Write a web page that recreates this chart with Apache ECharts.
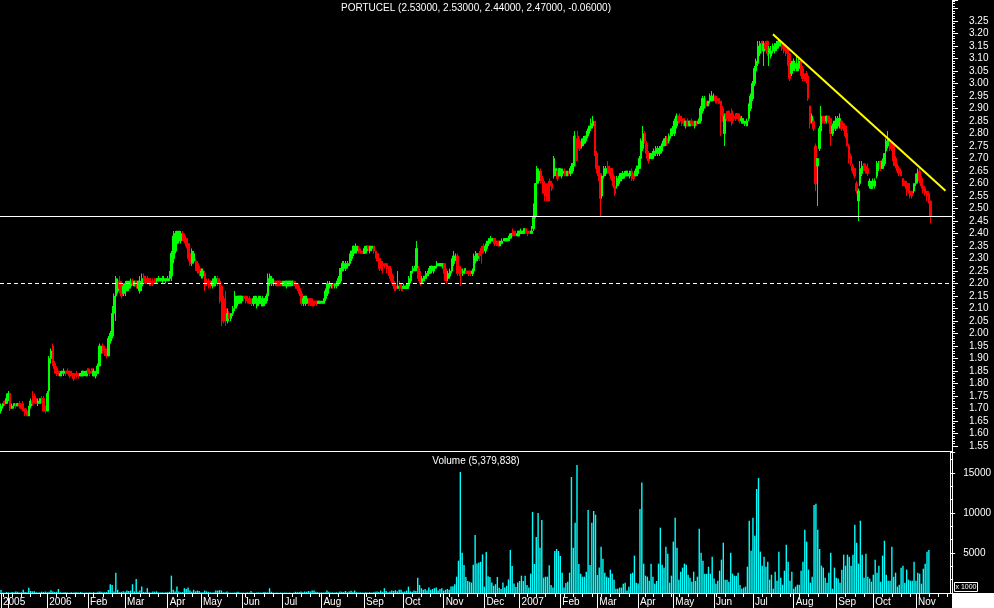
<!DOCTYPE html>
<html><head><meta charset="utf-8">
<script src="https://cdn.jsdelivr.net/npm/echarts@6/dist/echarts.min.js"></script>
<style>html,body{margin:0;padding:0;background:#000}#c{width:994px;height:608px}</style>
</head><body><div id="c"></div>
<script>
// ---------- text / levels ----------
const chartTitle = 'PORTUCEL (2.53000, 2.53000, 2.44000, 2.47000, -0.06000)';
const volumeTitle = 'Volume (5,379,838)';
const MONTHS = ['Jan','Feb','Mar','Apr','May','Jun','Jul','Aug','Sep','Oct','Nov','Dec'];
const holidays = ['2005-12-26','2006-04-14','2006-04-17','2006-05-01','2006-12-25','2006-12-26','2007-01-01','2007-04-06','2007-04-09','2007-05-01','2007-12-25','2007-12-26'];
const firstDay = [2005, 10, 25];
const totalSlots = 513;
const solidLevel = 2.47;
const dashedLevel = 2.20;
const trendIdx = [416, 509];
const trendVal = [3.197, 2.571];
const priceMin = 1.55, priceMax = 3.334, priceStep = 0.05, priceTopLabel = 3.25;
const volMin = 0, volMax = 17625, volStep = 5000;

// ---------- price bars per month: [open, close, low, high] ----------
const p2005_11 = [[1.69,1.71,1.68,1.72],[1.71,1.72,1.70,1.72],[1.73,1.72,1.71,1.73],[1.72,1.74,1.72,1.76]];
const p2005_12 = [[1.74,1.76,1.73,1.77],[1.76,1.70,1.69,1.76],[1.70,1.71,1.70,1.72],[1.71,1.72,1.70,1.72],[1.72,1.71,1.70,1.72],[1.71,1.72,1.71,1.72],[1.72,1.71,1.70,1.73],[1.71,1.70,1.70,1.72],[1.72,1.69,1.69,1.73],[1.70,1.68,1.67,1.70],[1.69,1.67,1.67,1.70],[1.67,1.71,1.67,1.71],[1.71,1.73,1.70,1.74],[1.73,1.72,1.71,1.77],[1.75,1.73,1.72,1.76],[1.74,1.72,1.72,1.75],[1.72,1.73,1.71,1.74],[1.72,1.74,1.72,1.74],[1.74,1.73,1.72,1.75],[1.74,1.69,1.69,1.75],[1.71,1.69,1.68,1.71]];
const p2006_01 = [[1.69,1.76,1.69,1.77],[1.77,1.90,1.76,1.91],[1.90,1.93,1.88,1.94],[1.95,1.88,1.87,1.96],[1.88,1.86,1.84,1.89],[1.86,1.84,1.83,1.87],[1.85,1.84,1.83,1.85],[1.83,1.84,1.83,1.85],[1.84,1.85,1.83,1.85],[1.84,1.85,1.83,1.86],[1.85,1.84,1.83,1.85],[1.85,1.84,1.84,1.86],[1.85,1.83,1.82,1.85],[1.84,1.83,1.83,1.85],[1.84,1.82,1.81,1.84],[1.84,1.83,1.82,1.84],[1.84,1.83,1.82,1.85],[1.84,1.83,1.82,1.84],[1.83,1.84,1.83,1.84],[1.83,1.85,1.83,1.85],[1.835,1.845,1.83,1.85],[1.83,1.85,1.83,1.85]];
const p2006_02 = [[1.86,1.84,1.84,1.86],[1.85,1.84,1.83,1.86],[1.86,1.84,1.84,1.86],[1.83,1.85,1.83,1.86],[1.83,1.84,1.82,1.85],[1.84,1.87,1.84,1.88],[1.87,1.95,1.87,1.96],[1.92,1.95,1.91,1.95],[1.95,1.93,1.92,1.96],[1.94,1.92,1.91,1.95],[1.93,1.91,1.90,1.94],[1.91,1.98,1.91,1.99],[1.97,2.00,1.96,2.01],[1.99,2.08,1.98,2.11],[2.08,2.15,2.07,2.16],[2.15,2.22,2.05,2.23],[2.17,2.21,2.16,2.22],[2.21,2.18,2.16,2.23],[2.20,2.15,2.14,2.21],[2.16,2.19,2.15,2.20]];
const p2006_03 = [[2.17,2.20,2.15,2.21],[2.17,2.21,2.17,2.21],[2.18,2.21,2.17,2.21],[2.19,2.21,2.18,2.22],[2.21,2.20,2.19,2.22],[2.19,2.21,2.19,2.21],[2.21,2.19,2.18,2.21],[2.18,2.21,2.17,2.21],[2.17,2.21,2.16,2.23],[2.19,2.22,2.17,2.24],[2.23,2.21,2.20,2.24],[2.22,2.20,2.20,2.23],[2.22,2.21,2.20,2.23],[2.22,2.20,2.19,2.22],[2.21,2.20,2.19,2.21],[2.21,2.20,2.19,2.22],[2.22,2.20,2.20,2.22],[2.21,2.22,2.20,2.22],[2.21,2.22,2.21,2.23],[2.21,2.22,2.21,2.22],[2.21,2.22,2.20,2.23],[2.21,2.22,2.21,2.23],[2.21,2.22,2.20,2.22]];
const p2006_04 = [[2.21,2.22,2.21,2.23],[2.22,2.24,2.21,2.25],[2.23,2.32,2.21,2.33],[2.30,2.39,2.28,2.41],[2.33,2.40,2.32,2.41],[2.36,2.41,2.35,2.41],[2.37,2.41,2.36,2.41],[2.37,2.40,2.36,2.41],[2.40,2.38,2.37,2.41],[2.39,2.37,2.36,2.40],[2.38,2.35,2.34,2.38],[2.36,2.30,2.29,2.36],[2.32,2.28,2.27,2.33],[2.28,2.33,2.27,2.34],[2.29,2.32,2.28,2.33],[2.29,2.26,2.25,2.30],[2.28,2.25,2.24,2.29],[2.26,2.24,2.23,2.27]];
const p2006_05 = [[2.23,2.25,2.22,2.26],[2.23,2.25,2.22,2.26],[2.24,2.19,2.17,2.25],[2.21,2.20,2.19,2.22],[2.21,2.19,2.18,2.22],[2.21,2.20,2.18,2.21],[2.19,2.21,2.18,2.22],[2.19,2.22,2.19,2.23],[2.20,2.22,2.19,2.23],[2.22,2.20,2.19,2.23],[2.21,2.13,2.12,2.22],[2.19,2.06,2.03,2.19],[2.14,2.05,2.04,2.15],[2.10,2.06,2.03,2.17],[2.05,2.08,2.04,2.10],[2.08,2.06,2.06,2.09],[2.06,2.08,2.05,2.08],[2.08,2.10,2.07,2.11],[2.10,2.15,2.09,2.17],[2.11,2.14,2.10,2.15],[2.12,2.15,2.12,2.15],[2.13,2.15,2.12,2.15]];
const p2006_06 = [[2.13,2.15,2.12,2.15],[2.15,2.14,2.13,2.15],[2.15,2.13,2.12,2.15],[2.14,2.13,2.12,2.15],[2.14,2.12,2.12,2.15],[2.13,2.12,2.11,2.14],[2.12,2.14,2.11,2.15],[2.12,2.15,2.12,2.15],[2.11,2.14,2.10,2.15],[2.12,2.15,2.11,2.15],[2.12,2.14,2.12,2.15],[2.11,2.13,2.11,2.15],[2.12,2.14,2.11,2.14],[2.13,2.15,2.12,2.16],[2.15,2.22,2.13,2.24],[2.20,2.23,2.19,2.24],[2.20,2.22,2.19,2.23],[2.20,2.21,2.19,2.22],[2.21,2.20,2.19,2.21],[2.21,2.19,2.19,2.21],[2.21,2.20,2.19,2.21],[2.21,2.19,2.19,2.21]];
const p2006_07 = [[2.19,2.21,2.19,2.21],[2.19,2.21,2.19,2.21],[2.19,2.21,2.18,2.21],[2.19,2.21,2.19,2.21],[2.19,2.21,2.19,2.21],[2.20,2.21,2.19,2.21],[2.21,2.19,2.19,2.21],[2.20,2.18,2.18,2.21],[2.20,2.18,2.17,2.20],[2.18,2.16,2.15,2.19],[2.16,2.12,2.11,2.17],[2.12,2.14,2.11,2.15],[2.12,2.15,2.11,2.15],[2.12,2.14,2.12,2.15],[2.14,2.12,2.11,2.14],[2.14,2.12,2.11,2.14],[2.13,2.11,2.11,2.14],[2.13,2.12,2.11,2.13],[2.13,2.12,2.11,2.13],[2.12,2.13,2.12,2.13],[2.12,2.13,2.12,2.13]];
const p2006_08 = [[2.12,2.13,2.12,2.13],[2.12,2.14,2.12,2.14],[2.14,2.17,2.13,2.18],[2.16,2.20,2.15,2.21],[2.19,2.20,2.18,2.21],[2.19,2.20,2.18,2.20],[2.20,2.19,2.18,2.20],[2.19,2.20,2.18,2.20],[2.19,2.21,2.18,2.21],[2.20,2.22,2.19,2.23],[2.21,2.26,2.20,2.26],[2.25,2.28,2.25,2.29],[2.26,2.28,2.25,2.29],[2.26,2.28,2.25,2.29],[2.27,2.28,2.26,2.29],[2.28,2.31,2.27,2.32],[2.30,2.33,2.29,2.33],[2.32,2.35,2.31,2.35],[2.33,2.34,2.32,2.36],[2.33,2.35,2.32,2.35],[2.34,2.33,2.32,2.35],[2.33,2.32,2.32,2.34],[2.33,2.32,2.32,2.33]];
const p2006_09 = [[2.32,2.34,2.32,2.35],[2.33,2.35,2.32,2.35],[2.35,2.34,2.33,2.35],[2.33,2.35,2.32,2.35],[2.34,2.35,2.33,2.35],[2.35,2.33,2.32,2.35],[2.33,2.31,2.30,2.33],[2.32,2.29,2.29,2.32],[2.30,2.26,2.25,2.30],[2.28,2.27,2.25,2.29],[2.28,2.27,2.24,2.29],[2.28,2.27,2.26,2.28],[2.28,2.26,2.24,2.28],[2.27,2.24,2.23,2.27],[2.26,2.22,2.21,2.27],[2.23,2.20,2.19,2.24],[2.20,2.18,2.17,2.21],[2.19,2.18,2.17,2.20],[2.18,2.19,2.18,2.25],[2.20,2.18,2.17,2.21],[2.19,2.17,2.17,2.20]];
const p2006_10 = [[2.18,2.19,2.18,2.20],[2.18,2.19,2.18,2.19],[2.18,2.20,2.18,2.20],[2.19,2.22,2.19,2.23],[2.21,2.25,2.20,2.25],[2.25,2.26,2.24,2.27],[2.25,2.27,2.25,2.27],[2.26,2.34,2.25,2.37],[2.26,2.22,2.21,2.27],[2.22,2.20,2.19,2.25],[2.20,2.22,2.20,2.23],[2.21,2.23,2.21,2.23],[2.22,2.24,2.22,2.25],[2.23,2.25,2.23,2.25],[2.24,2.26,2.24,2.27],[2.25,2.27,2.24,2.27],[2.25,2.26,2.24,2.27],[2.26,2.27,2.25,2.27],[2.27,2.28,2.26,2.29],[2.27,2.28,2.27,2.28],[2.27,2.28,2.27,2.28],[2.27,2.28,2.26,2.28]];
const p2006_11 = [[2.28,2.24,2.21,2.28],[2.25,2.21,2.20,2.26],[2.22,2.24,2.21,2.25],[2.23,2.25,2.22,2.26],[2.25,2.29,2.24,2.30],[2.28,2.31,2.27,2.33],[2.30,2.31,2.29,2.32],[2.31,2.24,2.23,2.32],[2.26,2.24,2.23,2.27],[2.26,2.24,2.19,2.27],[2.24,2.25,2.23,2.26],[2.24,2.26,2.24,2.26],[2.25,2.24,2.24,2.25],[2.25,2.24,2.23,2.25],[2.25,2.24,2.23,2.25],[2.24,2.25,2.23,2.26],[2.25,2.31,2.24,2.32],[2.29,2.32,2.28,2.33],[2.30,2.32,2.29,2.32],[2.32,2.31,2.29,2.33],[2.34,2.32,2.28,2.35],[2.35,2.33,2.32,2.36]];
const p2006_12 = [[2.33,2.35,2.32,2.36],[2.34,2.37,2.33,2.37],[2.36,2.38,2.35,2.38],[2.37,2.38,2.36,2.39],[2.37,2.38,2.37,2.38],[2.38,2.36,2.35,2.38],[2.37,2.36,2.35,2.37],[2.37,2.35,2.35,2.37],[2.35,2.37,2.35,2.37],[2.36,2.37,2.36,2.38],[2.37,2.38,2.37,2.38],[2.37,2.38,2.37,2.38],[2.37,2.38,2.37,2.38],[2.38,2.39,2.37,2.40],[2.39,2.40,2.38,2.40],[2.41,2.39,2.39,2.42],[2.41,2.39,2.39,2.41],[2.39,2.40,2.39,2.40],[2.39,2.41,2.39,2.41]];
const p2007_01 = [[2.40,2.41,2.40,2.42],[2.40,2.41,2.40,2.41],[2.40,2.42,2.40,2.42],[2.42,2.40,2.40,2.42],[2.41,2.40,2.39,2.41],[2.41,2.40,2.40,2.41],[2.40,2.41,2.40,2.43],[2.42,2.47,2.41,2.52],[2.47,2.60,2.46,2.60],[2.60,2.66,2.59,2.67],[2.61,2.65,2.60,2.66],[2.65,2.61,2.60,2.66],[2.62,2.58,2.56,2.63],[2.60,2.56,2.53,2.61],[2.59,2.55,2.53,2.60],[2.60,2.53,2.53,2.61],[2.61,2.59,2.58,2.62],[2.60,2.58,2.57,2.61],[2.63,2.70,2.62,2.71],[2.64,2.66,2.63,2.66],[2.65,2.62,2.61,2.66],[2.63,2.66,2.63,2.66]];
const p2007_02 = [[2.63,2.65,2.62,2.66],[2.64,2.65,2.63,2.66],[2.65,2.63,2.63,2.66],[2.63,2.65,2.63,2.65],[2.65,2.64,2.63,2.65],[2.64,2.66,2.63,2.67],[2.65,2.68,2.64,2.68],[2.67,2.79,2.67,2.81],[2.78,2.69,2.67,2.79],[2.79,2.74,2.69,2.81],[2.77,2.74,2.73,2.78],[2.75,2.77,2.74,2.78],[2.76,2.78,2.75,2.79],[2.77,2.79,2.76,2.79],[2.79,2.81,2.78,2.82],[2.80,2.83,2.79,2.83],[2.82,2.84,2.81,2.86],[2.83,2.85,2.82,2.87],[2.85,2.72,2.71,2.85],[2.72,2.66,2.64,2.73]];
const p2007_03 = [[2.67,2.63,2.61,2.67],[2.64,2.54,2.47,2.64],[2.55,2.63,2.54,2.63],[2.63,2.66,2.62,2.67],[2.64,2.66,2.63,2.67],[2.67,2.65,2.64,2.69],[2.66,2.64,2.63,2.67],[2.66,2.62,2.61,2.66],[2.63,2.59,2.58,2.64],[2.59,2.56,2.55,2.60],[2.59,2.62,2.58,2.63],[2.60,2.63,2.59,2.63],[2.61,2.64,2.61,2.64],[2.62,2.64,2.62,2.65],[2.63,2.64,2.62,2.65],[2.63,2.65,2.63,2.65],[2.63,2.64,2.63,2.65],[2.63,2.65,2.62,2.65],[2.65,2.62,2.61,2.66],[2.64,2.62,2.61,2.64],[2.63,2.65,2.63,2.66],[2.64,2.67,2.63,2.67]];
const p2007_04 = [[2.66,2.70,2.66,2.71],[2.70,2.77,2.69,2.78],[2.74,2.80,2.73,2.83],[2.80,2.77,2.76,2.81],[2.76,2.72,2.70,2.77],[2.72,2.69,2.68,2.73],[2.70,2.72,2.70,2.72],[2.70,2.72,2.70,2.73],[2.71,2.73,2.70,2.74],[2.72,2.74,2.71,2.75],[2.72,2.74,2.71,2.75],[2.72,2.74,2.71,2.75],[2.73,2.75,2.72,2.76],[2.75,2.77,2.75,2.78],[2.76,2.78,2.75,2.79],[2.78,2.76,2.75,2.79],[2.77,2.79,2.76,2.80],[2.79,2.81,2.78,2.82],[2.80,2.82,2.79,2.83]];
const p2007_05 = [[2.80,2.85,2.79,2.86],[2.83,2.87,2.82,2.88],[2.87,2.85,2.84,2.87],[2.87,2.85,2.84,2.88],[2.86,2.84,2.83,2.87],[2.86,2.84,2.83,2.86],[2.83,2.85,2.82,2.85],[2.85,2.83,2.83,2.86],[2.83,2.85,2.83,2.85],[2.85,2.84,2.83,2.86],[2.85,2.83,2.83,2.85],[2.83,2.85,2.82,2.85],[2.85,2.84,2.83,2.85],[2.84,2.85,2.84,2.86],[2.85,2.90,2.84,2.91],[2.89,2.94,2.88,2.95],[2.91,2.93,2.90,2.95],[2.93,2.91,2.90,2.94],[2.91,2.93,2.91,2.93],[2.93,2.95,2.92,2.96],[2.93,2.95,2.93,2.97],[2.94,2.95,2.93,2.96]];
const p2007_06 = [[2.95,2.93,2.92,2.95],[2.94,2.93,2.92,2.95],[2.94,2.92,2.92,2.94],[2.93,2.87,2.79,2.93],[2.90,2.86,2.85,2.91],[2.80,2.87,2.75,2.88],[2.88,2.86,2.85,2.89],[2.89,2.86,2.85,2.89],[2.88,2.85,2.85,2.89],[2.89,2.84,2.83,2.90],[2.87,2.86,2.85,2.88],[2.88,2.86,2.85,2.88],[2.88,2.86,2.86,2.88],[2.87,2.85,2.84,2.88],[2.85,2.86,2.84,2.87],[2.84,2.86,2.84,2.86],[2.84,2.85,2.83,2.85],[2.83,2.85,2.83,2.86],[2.86,2.91,2.85,2.92],[2.90,2.95,2.89,2.96],[2.94,3.00,2.93,3.01]];
const p2007_07 = [[3.00,3.06,2.99,3.07],[3.05,3.09,3.04,3.10],[3.08,3.15,3.07,3.17],[3.12,3.16,3.11,3.17],[3.17,3.13,3.12,3.17],[3.13,3.16,3.07,3.17],[3.16,3.14,3.13,3.17],[3.17,3.12,3.11,3.17],[3.12,3.14,3.07,3.15],[3.11,3.13,3.10,3.15],[3.13,3.15,3.12,3.16],[3.13,3.16,3.12,3.16],[3.14,3.15,3.13,3.17],[3.15,3.17,3.14,3.18],[3.15,3.16,3.15,3.17],[3.16,3.14,3.13,3.16],[3.15,3.13,3.12,3.16],[3.14,3.12,3.11,3.15],[3.14,3.11,3.07,3.14],[3.12,3.02,3.01,3.12],[3.04,3.08,3.03,3.09],[3.06,3.09,3.05,3.10]];
const p2007_08 = [[3.06,3.08,3.05,3.09],[3.05,3.08,3.05,3.11],[3.06,3.09,3.05,3.10],[3.09,3.04,3.03,3.10],[3.06,3.02,3.01,3.07],[3.03,3.02,3.01,3.04],[3.04,3.01,3.00,3.05],[3.03,2.94,2.93,3.03],[2.91,2.84,2.82,2.91],[2.85,2.87,2.84,2.88],[2.85,2.82,2.81,2.86],[2.75,2.60,2.57,2.76],[2.67,2.70,2.51,2.70],[2.74,2.82,2.73,2.83],[2.81,2.87,2.80,2.91],[2.87,2.85,2.84,2.87],[2.86,2.84,2.84,2.87],[2.85,2.87,2.84,2.87],[2.87,2.85,2.84,2.87],[2.86,2.80,2.75,2.86],[2.80,2.83,2.79,2.84],[2.82,2.85,2.80,2.85],[2.82,2.86,2.81,2.87]];
const p2007_09 = [[2.83,2.86,2.82,2.87],[2.83,2.86,2.82,2.88],[2.85,2.82,2.81,2.85],[2.84,2.82,2.81,2.84],[2.83,2.79,2.78,2.83],[2.80,2.75,2.75,2.81],[2.75,2.70,2.68,2.76],[2.71,2.68,2.67,2.72],[2.67,2.65,2.64,2.68],[2.66,2.63,2.62,2.66],[2.60,2.57,2.56,2.61],[2.53,2.57,2.45,2.58],[2.60,2.66,2.59,2.69],[2.64,2.67,2.63,2.69],[2.68,2.66,2.65,2.68],[2.67,2.65,2.64,2.68],[2.66,2.64,2.63,2.68],[2.59,2.61,2.58,2.62],[2.58,2.60,2.58,2.61],[2.59,2.61,2.58,2.62]];
const p2007_10 = [[2.59,2.61,2.58,2.62],[2.63,2.68,2.62,2.69],[2.66,2.68,2.65,2.69],[2.69,2.66,2.65,2.69],[2.66,2.69,2.66,2.70],[2.68,2.72,2.67,2.72],[2.73,2.77,2.72,2.78],[2.75,2.78,2.74,2.81],[2.77,2.74,2.73,2.78],[2.76,2.74,2.73,2.77],[2.75,2.69,2.67,2.76],[2.70,2.67,2.66,2.71],[2.67,2.65,2.64,2.68],[2.66,2.64,2.63,2.66],[2.65,2.63,2.63,2.66],[2.62,2.60,2.59,2.62],[2.61,2.59,2.59,2.61],[2.60,2.58,2.55,2.61],[2.60,2.57,2.56,2.60],[2.57,2.55,2.54,2.58],[2.57,2.55,2.54,2.57],[2.57,2.60,2.56,2.60],[2.60,2.63,2.59,2.64]];
const p2007_11 = [[2.61,2.64,2.60,2.66],[2.65,2.61,2.60,2.66],[2.62,2.59,2.58,2.63],[2.59,2.57,2.56,2.60],[2.58,2.56,2.55,2.59],[2.57,2.55,2.53,2.57],[2.56,2.53,2.52,2.57],[2.53,2.47,2.44,2.53]];

// ---------- volume per month (x 1000 shares) ----------
const v2005_11 = [380,60,40,120];
const v2005_12 = [80,60,120,90,200,150,70,100,420,110,80,660,250,200,220,100,60,90,150,120,180];
const v2006_01 = [100,150,350,200,120,150,500,90,60,80,100,70,50,90,60,80,100,70,120,60,40,60];
const v2006_02 = [60,80,50,120,40,100,200,150,80,100,120,380,1100,1000,200,2540,400,100,150,220];
const v2006_03 = [150,300,250,300,1100,200,1750,150,300,800,120,100,600,80,60,200,150,200,80,60,100,50,80];
const v2006_04 = [100,150,2170,400,200,800,200,100,120,600,500,700,300,150,400,200,300,250];
const v2006_05 = [100,80,300,200,150,80,60,100,300,300,350,300,100,80,200,60,50,40,60,80,150,60];
const v2006_06 = [60,50,40,80,60,250,50,40,60,80,50,60,120,100,80,600,150,60,40,50,30,60];
const v2006_07 = [40,50,60,30,50,40,60,150,100,120,200,100,180,150,250,200,300,300,150,100,60];
const v2006_08 = [80,60,100,300,150,60,80,50,100,60,200,150,120,250,100,200,280,150,300,100,60,80,50];
const v2006_09 = [60,80,50,100,60,80,150,200,120,300,150,600,250,100,200,300,250,350,200,400,400];
const v2006_10 = [150,200,300,800,200,150,300,250,1900,1000,600,400,500,300,700,400,500,600,700,300,500,600];
const v2006_11 = [300,400,500,400,800,850,1100,2040,4040,15125,5040,3500,2000,1500,1400,1300,3540,7250,3700,3800,3900,4830];
const v2006_12 = [800,5125,2080,2000,1300,900,1100,2000,660,500,1300,700,900,1700,5375,3375,1200,750,1300];
const v2007_01 = [1500,2170,1500,2170,1000,700,2420,10125,3625,7000,10000,5670,9125,1920,2040,2040,3460,1000,700,5250,5500,5250];
const v2007_02 = [4625,2540,700,1250,1400,2540,14500,5670,8790,16000,3625,2420,2040,2040,2670,10375,3500,8790,10250,9790];
const v2007_03 = [2250,3200,5790,4290,2540,2040,1920,2920,2420,1670,540,540,670,670,1170,1290,300,790,2420,2540,4670,1290];
const v2007_04 = [1200,10500,13800,3670,2170,2040,1540,3670,2040,1170,1500,3670,8170,3540,3170,5790,4920,1290,2170];
const v2007_05 = [6420,9420,5670,1670,2670,3170,3670,3540,2290,1920,1420,2670,1500,2040,8040,5040,4040,2420,2400,3290,2420,4540];
const v2007_06 = [1800,1170,1540,2790,4170,6290,1670,1670,1420,5040,2420,2170,2170,2540,1000,540,670,790,3290,9040,5290];
const v2007_07 = [9420,7170,13000,14375,5170,3420,4540,3290,3920,1670,2290,540,2670,1540,5170,1920,1040,2790,6040,3920,1540,2670];
const v2007_08 = [540,790,1040,1040,2790,3920,7920,6420,2920,1290,2040,11000,11170,7920,5500,3420,3170,1920,1290,2540,5040,540,3170];
const v2007_09 = [1920,1800,1290,2920,4790,3420,4790,4540,3420,4790,8540,6290,3670,9040,4790,1920,4920,2040,1800,1420];
const v2007_10 = [2290,4170,2540,3420,1420,4670,6540,2290,1540,1540,5790,2040,2540,800,1040,3170,3420,1290,2920,1670,1540,1540,3920];
const v2007_11 = [1540,2540,2420,1170,3040,3670,5170,5379.838];

const priceMonths = [p2005_11,p2005_12,p2006_01,p2006_02,p2006_03,p2006_04,p2006_05,p2006_06,p2006_07,p2006_08,p2006_09,p2006_10,p2006_11,p2006_12,p2007_01,p2007_02,p2007_03,p2007_04,p2007_05,p2007_06,p2007_07,p2007_08,p2007_09,p2007_10,p2007_11];
const volMonths = [v2005_11,v2005_12,v2006_01,v2006_02,v2006_03,v2006_04,v2006_05,v2006_06,v2006_07,v2006_08,v2006_09,v2006_10,v2006_11,v2006_12,v2007_01,v2007_02,v2007_03,v2007_04,v2007_05,v2007_06,v2007_07,v2007_08,v2007_09,v2007_10,v2007_11];

const priceData = [].concat(...priceMonths);
const volData = [].concat(...volMonths);

// ---------- trading-day categories ----------
const dates = [];
{
  const d = new Date(Date.UTC(firstDay[0], firstDay[1], firstDay[2]));
  while (dates.length < totalSlots) {
    const s = d.toISOString().slice(0, 10);
    const wd = d.getUTCDay();
    if (wd !== 0 && wd !== 6 && holidays.indexOf(s) < 0) dates.push(s);
    d.setUTCDate(d.getUTCDate() + 1);
  }
}
const monthTick = new Set([0]);
const weekTick = new Set();
const labelText = {0: dates[0].slice(0, 4)};
const dow = s => new Date(s + 'T00:00:00Z').getUTCDay();
for (let i = 1; i < dates.length; i++) {
  const y = +dates[i].slice(0, 4), m = +dates[i].slice(5, 7), pm = +dates[i - 1].slice(5, 7);
  if (m !== pm) {
    monthTick.add(i);
    if (i >= 10) labelText[i] = m === 1 ? String(y) : MONTHS[m - 1];
  }
  if (dow(dates[i]) <= dow(dates[i - 1])) weekTick.add(i);
}

const FONT = '"Liberation Sans", Arial, sans-serif';
const W = 952;
const chart = echarts.init(document.getElementById('c'), null, {renderer: 'canvas'});
chart.setOption({
  backgroundColor: '#000',
  animation: false,
  grid: [
    {left: 0, width: W, top: 0, height: 446},
    {left: 0, width: W, top: 452, height: 141}
  ],
  xAxis: [
    {type: 'category', gridIndex: 0, data: dates, boundaryGap: true, show: false},
    {type: 'category', gridIndex: 1, data: dates, boundaryGap: true, position: 'bottom',
      axisLine: {show: true, lineStyle: {color: '#fff', width: 1}},
      axisTick: {show: true, alignWithLabel: true, length: 15, interval: i => monthTick.has(i), lineStyle: {color: '#fff'}},
      axisLabel: {show: true, interval: i => labelText[i] !== undefined, formatter: (v, i) => labelText[i] || '',
        color: '#fff', fontSize: 10, fontFamily: FONT, align: 'left', margin: 4, padding: [0, 0, 0, 2]},
      splitLine: {show: false}},
    {type: 'category', gridIndex: 1, data: dates, boundaryGap: true, position: 'bottom',
      axisLine: {show: false},
      axisTick: {show: true, alignWithLabel: true, length: 4, interval: i => weekTick.has(i), lineStyle: {color: '#fff'}},
      axisLabel: {show: false}, splitLine: {show: false}}
  ],
  yAxis: [
    {type: 'value', gridIndex: 0, position: 'right', min: priceMin, max: priceMax, interval: priceStep,
      axisLine: {show: true, lineStyle: {color: '#fff'}},
      axisTick: {show: true, length: 6, lineStyle: {color: '#fff'}},
      minorTick: {show: true, splitNumber: 5, length: 3, lineStyle: {color: '#fff'}},
      axisLabel: {color: '#fff', fontSize: 10, fontFamily: FONT, margin: 17, showMaxLabel: false,
        formatter: v => (v > priceTopLabel + 0.001 ? '' : v.toFixed(2))},
      splitLine: {show: false}},
    {type: 'value', gridIndex: 1, position: 'right', min: volMin, max: volMax, interval: volStep,
      axisLine: {show: true, lineStyle: {color: '#fff'}},
      axisTick: {show: true, length: 5, lineStyle: {color: '#fff'}},
      minorTick: {show: true, splitNumber: 3, length: 3, lineStyle: {color: '#fff'}},
      axisLabel: {color: '#fff', fontSize: 10, fontFamily: FONT, margin: 13, showMaxLabel: false, showMinLabel: false,
        formatter: v => String(Math.round(v))},
      splitLine: {show: false}}
  ],
  series: [
    {type: 'candlestick', xAxisIndex: 0, yAxisIndex: 0, data: priceData, barWidth: 2, large: false,
      itemStyle: {color: '#00ff00', color0: '#ff0000', borderColor: '#00ff00', borderColor0: '#ff0000', borderWidth: 1},
      markLine: {silent: true, symbol: 'none', animation: false, label: {show: false},
        data: [
          {yAxis: solidLevel, lineStyle: {color: '#ffffff', type: 'solid', width: 1}},
          {yAxis: dashedLevel, lineStyle: {color: '#ffffff', type: [4, 3], width: 1}},
          [{coord: [dates[trendIdx[0]], trendVal[0]], lineStyle: {color: '#ffff00', width: 2, type: 'solid'}},
           {coord: [dates[trendIdx[1]], trendVal[1]]}]
        ]}},
    {type: 'bar', xAxisIndex: 1, yAxisIndex: 1, data: volData, barWidth: 1.4, large: false,
      itemStyle: {color: '#00ffff'}}
  ],
  graphic: [
    {type: 'text', style: {text: chartTitle, x: W / 2, y: 3, textAlign: 'center', fill: '#fff', font: '10px ' + FONT}},
    {type: 'text', style: {text: volumeTitle, x: W / 2, y: 456, textAlign: 'center', fill: '#fff', font: '10px ' + FONT}},
    {type: 'line', shape: {x1: 0, y1: 451.5, x2: W, y2: 451.5}, style: {stroke: '#fff', lineWidth: 1}},
    {type: 'line', shape: {x1: W + 0.5, y1: 0, x2: W + 0.5, y2: 593}, style: {stroke: '#fff', lineWidth: 1}},
    {type: 'rect', shape: {x: W, y: 593, width: 994 - W, height: 15}, style: {fill: '#fff'}},
    {type: 'rect', shape: {x: 954.5, y: 582.5, width: 23, height: 9}, style: {stroke: '#fff', fill: '#000', lineWidth: 1}},
    {type: 'text', style: {text: 'x 1000', x: 966, y: 584, textAlign: 'center', fill: '#fff', font: '7px ' + FONT}}
  ]
});
</script>
</body></html>
